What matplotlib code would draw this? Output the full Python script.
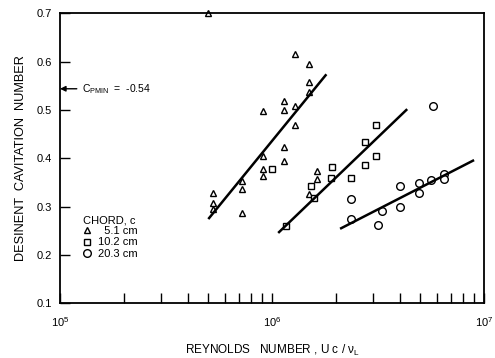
import matplotlib
matplotlib.use("Agg")
import matplotlib.pyplot as plt
from matplotlib.ticker import LogLocator, NullFormatter, FixedLocator

plt.rcParams['font.family'] = ['Liberation Sans', 'DejaVu Sans']
plt.rcParams['mathtext.fontset'] = 'custom'
plt.rcParams['mathtext.rm'] = 'Liberation Sans'
plt.rcParams['mathtext.it'] = 'Liberation Sans:italic'

# chord 5.1 cm (triangles)
re_51 = [4.99e5, 1.29e6, 1.50e6, 1.50e6, 1.50e6, 1.14e6, 1.14e6, 9.1e5, 1.29e6,
         1.29e6, 1.14e6, 9.1e5, 1.14e6, 9.1e5, 9.1e5, 7.2e5, 7.2e5, 5.25e5,
         5.25e5, 5.25e5, 7.2e5, 1.63e6, 1.63e6, 1.50e6]
sig_51 = [0.700, 0.617, 0.595, 0.558, 0.538, 0.519, 0.501, 0.498, 0.508,
          0.468, 0.424, 0.405, 0.394, 0.378, 0.364, 0.353, 0.336, 0.329,
          0.307, 0.294, 0.287, 0.374, 0.358, 0.325]

# chord 10.2 cm (squares)
re_102 = [9.97e5, 1.52e6, 1.57e6, 1.16e6, 1.92e6, 1.90e6, 2.35e6, 2.74e6,
          2.74e6, 3.10e6, 3.10e6]
sig_102 = [0.377, 0.343, 0.317, 0.260, 0.382, 0.360, 0.360, 0.434,
           0.386, 0.468, 0.405]

# chord 20.3 cm (circles)
re_203 = [2.35e6, 2.35e6, 3.32e6, 3.16e6, 4.0e6, 4.0e6, 4.93e6, 4.93e6,
          5.65e6, 6.5e6, 6.5e6, 5.77e6]
sig_203 = [0.316, 0.274, 0.291, 0.262, 0.342, 0.300, 0.348, 0.327,
           0.355, 0.368, 0.356, 0.508]

# fitted lines (end points)
fit_51_x = [5.05e5, 1.79e6]
fit_51_y = [0.276, 0.572]
fit_102_x = [1.08e6, 4.30e6]
fit_102_y = [0.247, 0.500]
fit_203_x = [2.12e6, 8.87e6]
fit_203_y = [0.255, 0.395]

cp_min = 0.544
chords = ['  5.1 cm', '10.2 cm', '20.3 cm']

fig = plt.figure(figsize=(4.95, 3.58), dpi=100)
ax = fig.add_axes([0.1212, 0.1536, 0.8566, 0.8087])

ax.set_xscale('log')
ax.set_xlim(1e5, 1e7)
ax.set_ylim(0.1, 0.7)

mk = dict(linestyle='none', mfc='white', mec='black', mew=1.0, clip_on=False)
h1, = ax.plot(re_51, sig_51, marker='^', ms=5, **mk)
h2, = ax.plot(re_102, sig_102, marker='s', ms=4.4, **mk)
h3, = ax.plot(re_203, sig_203, marker='o', ms=5.5, **mk)

ax.plot(fit_51_x, fit_51_y, color='black', lw=1.8)
ax.plot(fit_102_x, fit_102_y, color='black', lw=1.8)
ax.plot(fit_203_x, fit_203_y, color='black', lw=1.8)

ax.annotate('', xy=(1e5, cp_min), xytext=(1.2e5, cp_min),
            arrowprops=dict(arrowstyle='-|>', color='black', lw=1.0,
                            mutation_scale=8, shrinkA=0, shrinkB=0))
ax.text(1.27e5, cp_min, r'$\mathregular{C_{PMIN}}$  =  -0.54', fontsize=7.5,
        va='center', ha='left')

leg = ax.legend([h1, h2, h3], chords, title='CHORD, c', loc='upper left',
                bbox_to_anchor=(0.035, 0.33), frameon=False, fontsize=8,
                title_fontsize=8, handlelength=0.8, handletextpad=0.6,
                labelspacing=0.1, borderpad=0.2, alignment='left')

for s in ax.spines.values():
    s.set_linewidth(1.3)

ax.set_yticks([0.1, 0.2, 0.3, 0.4, 0.5, 0.6, 0.7])
ax.set_yticklabels(['0.1', '0.2', '0.3', '0.4', '0.5', '0.6', '0.7'])
ax.tick_params(axis='y', direction='in', length=7, width=1.0, labelsize=8,
               pad=6, right=False)

ax.xaxis.set_major_locator(FixedLocator([1e5, 1e6, 1e7]))
ax.set_xticklabels([r'$\mathregular{10^5}$', r'$\mathregular{10^6}$',
                    r'$\mathregular{10^7}$'])
ax.xaxis.set_minor_locator(LogLocator(base=10, subs=range(2, 10)))
ax.xaxis.set_minor_formatter(NullFormatter())
ax.tick_params(axis='x', which='both', direction='in', length=7, width=1.0,
               labelsize=8, pad=9, top=False)

ax.set_xlabel(r'REYNOLDS   NUMBER , U c / $\mathregular{\nu_L}$', fontsize=8.5,
              labelpad=10)
ax.set_ylabel('DESINENT  CAVITATION  NUMBER', fontsize=9.2, labelpad=7)

fig.savefig('out.png', dpi=100)
